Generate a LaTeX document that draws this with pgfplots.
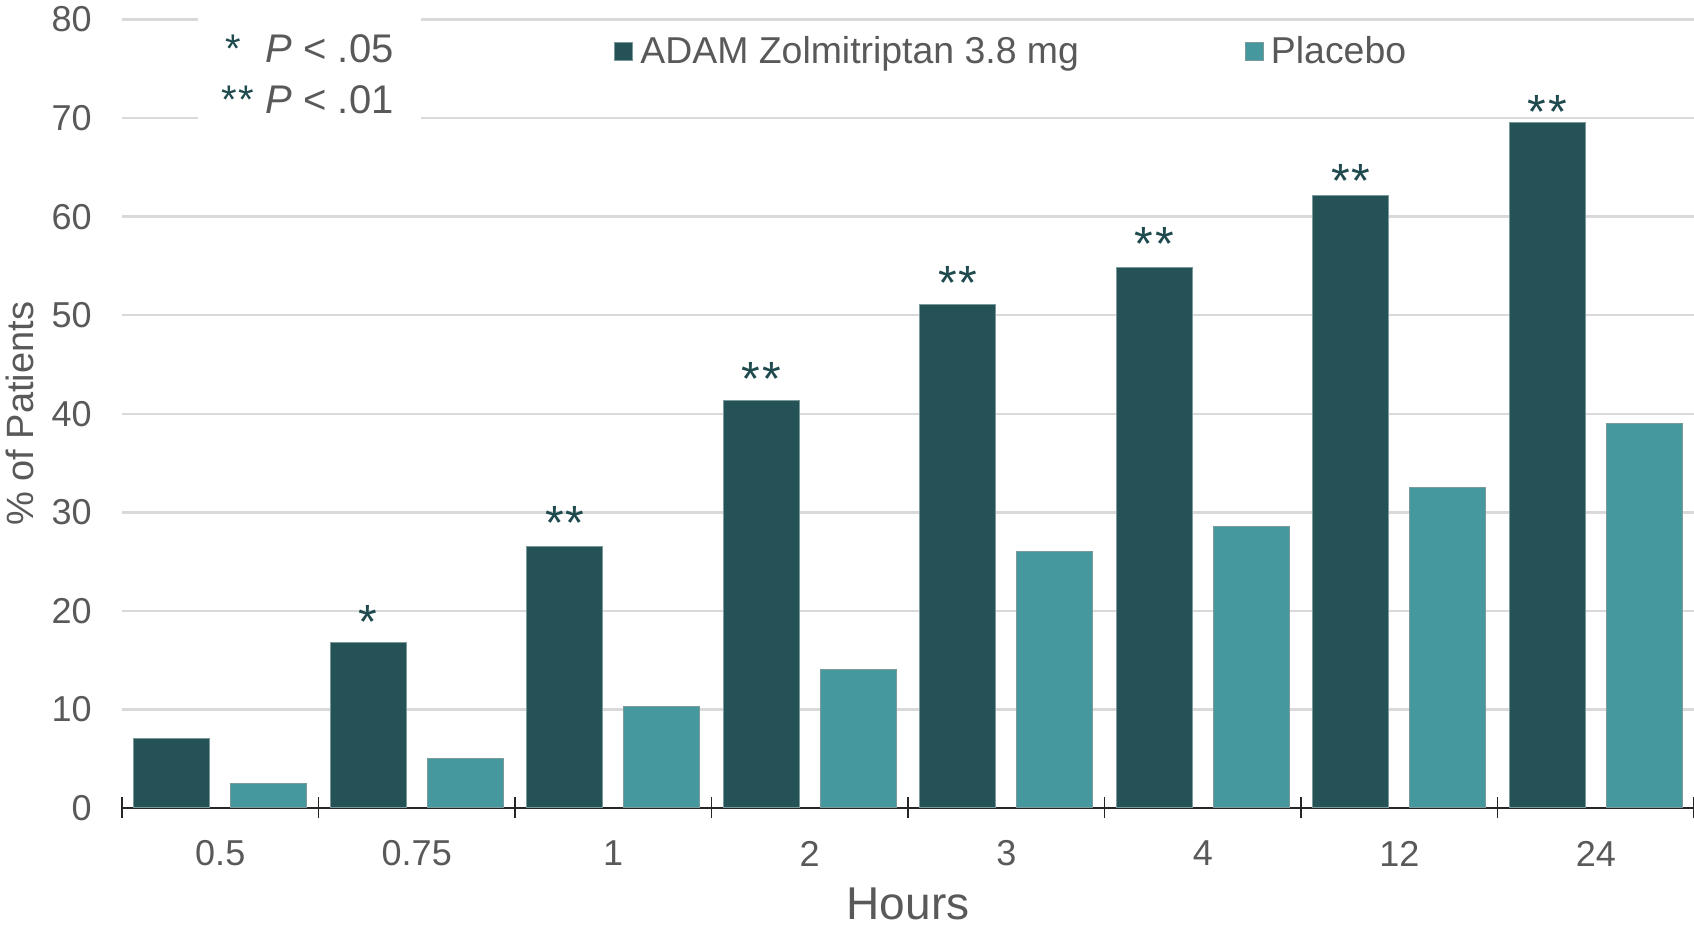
\documentclass[border=0pt]{standalone}
\usepackage{pgfplots}
\pgfplotsset{compat=1.18}
\usepackage{fontspec}
\setmainfont{Liberation Sans}

\definecolor{txtgray}{HTML}{595959}
\definecolor{gridgray}{HTML}{D9D9D9}
\definecolor{adam}{HTML}{245256}
\definecolor{placebo}{HTML}{44989E}
\definecolor{edgegray}{HTML}{7A9A9C}
\definecolor{starcol}{HTML}{1F4A4E}

\begin{document}
\begin{tikzpicture}
\begin{axis}[
    name=ax,
    scale only axis,
    width=786pt, height=394.25pt,
    xmin=-0.5, xmax=7.5,
    ymin=0, ymax=80,
    enlargelimits=false,
    clip=false,
    ybar,
    bar width=0.385,
    separate axis lines,
    axis x line*=bottom,
    axis y line*=left,
    y axis line style={draw=none},
    x axis line style={black!85, line width=1pt, -},
    ymajorgrids=true,
    grid style={gridgray, line width=1.2pt},
    xtick={0,...,7},
    xticklabels={0.5, 0.75, 1, 2, 3, 4, 12, 24},
    minor xtick={-0.5,0.5,...,7.5},
    ytick={0,10,...,80},
    /pgf/number format/assume math mode=true,
    major tick length=0pt,
    minor tick length=10.5pt,
    tick align=center,
    minor tick style={black!85, line width=0.8pt},
    xticklabel style={anchor=center, yshift=-22.8pt, inner sep=0pt,
        font=\fontsize{18}{20}\selectfont, text=txtgray},
    yticklabel style={anchor=east, xshift=-15pt, inner sep=0pt,
        font=\fontsize{18}{20}\selectfont, text=txtgray},
    xlabel={Hours},
    xlabel style={at={(axis description cs:0.5,-0.1218)}, anchor=center,
        font=\fontsize{23}{26}\selectfont, text=txtgray},
    ylabel={\% of Patients},
    ylabel style={at={(axis description cs:-0.0652,0.5)}, anchor=center,
        font=\fontsize{19}{22}\selectfont, text=txtgray},
    legend style={at={(axis description cs:0.313,0.959)}, anchor=west,
        draw=none, fill=none, inner sep=0pt,
        legend columns=2,
        font=\fontsize{18.7}{22}\selectfont, text=txtgray,
        /tikz/every odd column/.append style={column sep=1.5pt},
        /tikz/every even column/.append style={column sep=81pt}},
    legend cell align=left,
    legend image code/.code={\draw[#1] (0pt,-4.5pt) rectangle (9pt,4.5pt);},
]

\addplot[
    bar shift=-0.247,
    fill=adam, draw=edgegray, line width=0.5pt,
] coordinates {
    (0, 7.1)
    (1, 16.8)
    (2, 26.5)
    (3, 41.3)
    (4, 51.1)
    (5, 54.8)
    (6, 62.1)
    (7, 69.5)
};

\addplot[
    bar shift=0.247,
    fill=placebo, draw=edgegray, line width=0.5pt,
] coordinates {
    (0, 2.5)
    (1, 5.0)
    (2, 10.3)
    (3, 14.1)
    (4, 26.0)
    (5, 28.6)
    (6, 32.5)
    (7, 39.0)
};

\legend{ADAM Zolmitriptan 3.8 mg, Placebo}

% significance marks, placed at the height of their centres
\addplot[
    forget plot,
    bar shift=-0.247,
    draw=none, fill=none,
    nodes near coords,
    point meta=explicit symbolic,
    every node near coord/.append style={anchor=base, inner sep=0pt,
        yshift=-11.5pt, text=starcol, font=\fontsize{24}{26}\selectfont},
] coordinates {
    (1, 19.5) [*]
    (2, 29.6) [{*\kern1pt*}]
    (3, 44.2) [{*\kern1pt*}]
    (4, 53.9) [{*\kern1pt*}]
    (5, 57.9) [{*\kern1pt*}]
    (6, 64.3) [{*\kern1pt*}]
    (7, 71.3) [{*\kern1pt*}]
};

% white box behind the p-value key
\fill[white] (axis cs:-0.113,66) rectangle (axis cs:1.02,82);
\node[anchor=base east, inner sep=0pt, text=txtgray, font=\fontsize{20}{24}\selectfont]
    at (axis cs:0.884,75.6) {\textcolor{starcol}{*}\hspace{7pt} \textit{P} < .05};
\node[anchor=base east, inner sep=0pt, text=txtgray, font=\fontsize{20}{24}\selectfont]
    at (axis cs:0.884,70.5) {\textcolor{starcol}{*\kern1pt*} \textit{P} < .01};
\end{axis}

\pgfresetboundingbox
\path[use as bounding box] ([xshift=-61pt,yshift=-59pt]ax.south west) rectangle ([yshift=9.75pt]ax.north east);
\end{tikzpicture}
\end{document}
